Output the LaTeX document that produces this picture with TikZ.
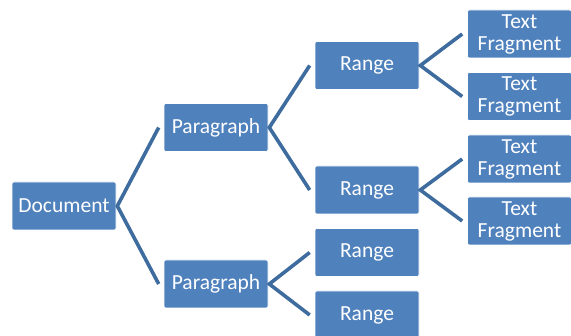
\documentclass[tikz,border=0pt]{standalone}
\usepackage{fontspec}
\setmainfont{Carlito}
\definecolor{boxblue}{HTML}{4F81BD}
\definecolor{linkblue}{HTML}{3F6C9E}
\begin{document}
\begin{tikzpicture}[x=1pt,y=-1pt,
  box/.style={draw=white,line width=0.6pt,fill=boxblue,text=white,rounded corners=2pt,
    minimum width=104pt,minimum height=48pt,inner sep=0pt,align=center,
    font=\fontsize{21.5}{22}\selectfont},
  link/.style={draw=linkblue,line width=3.6pt,line join=miter}]
\useasboundingbox (0,0) rectangle (571,336);
\node[box] (doc) at (64,206) {Document};
\node[box] (p1) at (216,127.5) {Paragraph};
\node[box] (p2) at (216,284) {Paragraph};
\node[box] (r1) at (367,65.5) {Range};
\node[box] (r2) at (367,190) {Range};
\node[box] (r3) at (367,252.5) {Range};
\node[box] (r4) at (367,315) {Range};
\node[box] (t1) at (519.5,34) {Text\\Fragment};
\node[box] (t2) at (519.5,96.5) {Text\\Fragment};
\node[box] (t3) at (519.5,159) {Text\\Fragment};
\node[box] (t4) at (519.5,221) {Text\\Fragment};
\draw[link] ([xshift=-5pt]p1.west) -- ([xshift=1pt]doc.east) -- ([xshift=-5pt]p2.west);
\draw[link] ([xshift=-5pt]r1.west) -- ([xshift=1pt]p1.east) -- ([xshift=-5pt]r2.west);
\draw[link] ([xshift=-5pt]r3.west) -- ([xshift=1pt]p2.east) -- ([xshift=-5pt]r4.west);
\draw[link] ([xshift=-5pt]t1.west) -- ([xshift=1pt]r1.east) -- ([xshift=-5pt]t2.west);
\draw[link] ([xshift=-5pt]t3.west) -- ([xshift=1pt]r2.east) -- ([xshift=-5pt]t4.west);
\end{tikzpicture}
\end{document}
